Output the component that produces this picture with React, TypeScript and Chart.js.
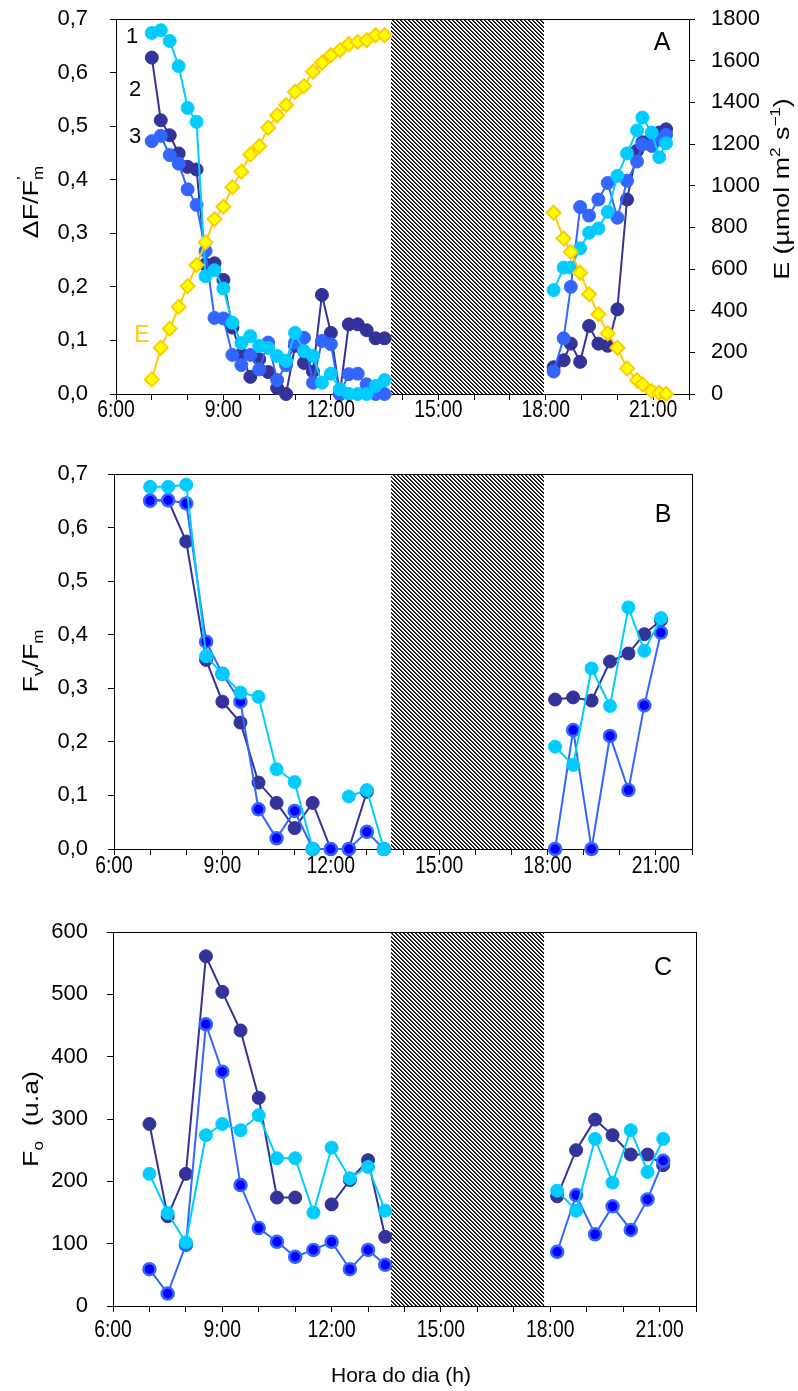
import React, { useEffect, useRef } from 'react';
import { Chart, registerables } from 'chart.js';

Chart.register(...registerables);

const FONT = '"Liberation Sans", Arial, Helvetica, sans-serif';

// ---------- Panel A (ΔF/F'm and E) ----------
const timesAM_A = [7.0, 7.25, 7.5, 7.75, 8.0, 8.25, 8.5, 8.75, 9.0, 9.25, 9.5, 9.75, 10.0, 10.25, 10.5, 10.75, 11.0, 11.25, 11.5, 11.75, 12.0, 12.25, 12.5, 12.75, 13.0, 13.25, 13.5];
const timesPM_A = [18.22, 18.5, 18.7, 18.96, 19.21, 19.47, 19.73, 20.0, 20.27, 20.55, 20.7, 20.96, 21.17, 21.36];

const yieldA1_AM = [0.674, 0.679, 0.659, 0.612, 0.534, 0.508, 0.22, 0.231, 0.197, 0.133, 0.095, 0.108, 0.09, 0.086, 0.071, 0.062, 0.114, 0.08, 0.071, 0.021, 0.038, 0.009, 0.0, 0.0, 0.0, 0.015, 0.026];
const yieldA2_AM = [0.628, 0.511, 0.483, 0.449, 0.424, 0.419, 0.242, 0.244, 0.213, 0.124, 0.074, 0.032, 0.065, 0.041, 0.011, 0.0, 0.09, 0.058, 0.042, 0.185, 0.114, 0.0, 0.13, 0.13, 0.119, 0.104, 0.104];
const yieldA3_AM = [0.472, 0.482, 0.446, 0.43, 0.382, 0.353, 0.267, 0.142, 0.141, 0.073, 0.054, 0.073, 0.046, 0.096, 0.026, 0.054, 0.096, 0.105, 0.021, 0.099, 0.093, 0.0, 0.037, 0.038, 0.018, 0.0, 0.0];

const yieldA1_PM = [0.194, 0.236, 0.236, 0.272, 0.301, 0.309, 0.34, 0.407, 0.449, 0.492, 0.516, 0.488, 0.442, 0.468];
const yieldA2_PM = [0.05, 0.063, 0.094, 0.06, 0.127, 0.094, 0.09, 0.158, 0.363, 0.454, 0.47, 0.478, 0.488, 0.494];
const yieldA3_PM = [0.042, 0.104, 0.2, 0.349, 0.333, 0.363, 0.394, 0.329, 0.398, 0.434, 0.466, 0.463, 0.475, 0.484];

const irradAM = [70, 222, 313, 418, 518, 619, 728, 839, 899, 993, 1067, 1150, 1190, 1278, 1338, 1387, 1450, 1478, 1547, 1590, 1626, 1650, 1679, 1690, 1699, 1722, 1722];
const irradPM = [870, 747, 682, 582, 479, 383, 291, 222, 123, 66, 46, 14, 6, 0];

// ---------- Panel B (Fv/Fm) ----------
const timesAM_B = [7.0, 7.5, 8.0, 8.55, 9.0, 9.5, 10.0, 10.5, 11.0, 11.5, 12.0, 12.5, 13.0, 13.47];
const timesPM_B = [18.21, 18.71, 19.22, 19.73, 20.24, 20.68, 21.14];

const fvfm1_AM = [0.676, 0.676, 0.68, 0.36, 0.327, 0.292, 0.284, 0.149, 0.125, 0.0, null, 0.098, 0.11, 0.0];
const fvfm2_AM = [0.651, 0.651, 0.574, 0.353, 0.275, 0.236, 0.124, 0.086, 0.039, 0.086, 0.0, 0.0, 0.107, null];
const fvfm3_AM = [0.65, 0.651, 0.645, 0.387, 0.327, 0.275, 0.074, 0.02, 0.071, 0.0, 0.0, 0.0, 0.032, 0.0];
const fvfm1_PM = [0.191, 0.157, 0.337, 0.267, 0.451, 0.37, 0.431];
const fvfm2_PM = [0.279, 0.283, 0.277, 0.35, 0.365, 0.401, 0.427];
const fvfm3_PM = [0.0, 0.222, 0.0, 0.211, 0.11, 0.268, 0.404];

// ---------- Panel C (Fo) ----------
const timesAM_C = [7.0, 7.5, 8.0, 8.55, 9.0, 9.5, 10.0, 10.5, 11.0, 11.5, 12.0, 12.5, 13.0, 13.47];
const timesPM_C = [18.19, 18.71, 19.23, 19.71, 20.21, 20.67, 21.1];

const fo1_AM = [212, 149, 102, 274, 292, 282, 306, 237, 237, 150, 254, 205, 223, 153];
const fo2_AM = [292, 144, 212, 561, 504, 442, 334, 174, 174, null, 163, 202, 234, 111];
const fo3_AM = [59, 20, 98, 452, 376, 194, 125, 103, 79, 90, 103, 59, 90, 66];
const fo1_PM = [185, 153, 268, 198, 282, 215, 268];
const fo2_PM = [176, 250, 299, 274, 243, 243, 226];
const fo3_PM = [87, 178, 115, 160, 122, 171, 233];

// x-axis labelled hours
const hourLabels = [6, 9, 12, 15, 18, 21];

// Hatched (no-measurement) interval per panel, in hours
const hatchA = [13.68, 17.95];
const hatchB = [13.67, 17.9];
const hatchC = [13.63, 17.83];

const CYAN = '#00CCFF';
const NAVY = '#333399';
const BLUE = '#3366FF';
const PURE_BLUE = '#0000FF';
const YELLOW_FILL = '#FFFF00';
const YELLOW_LINE = '#FFCC00';

type Pt = { x: number; y: number | null };
function series(am: number[], amY: (number | null)[], pm: number[], pmY: (number | null)[]): Pt[] {
  const a = am.map((x, i) => ({ x, y: amY[i] }));
  const b = pm.map((x, i) => ({ x, y: pmY[i] }));
  return [...a, { x: 16, y: null }, ...b];
}

type Seg = { t: string; size: number; dy?: number; adv?: boolean };

const STRETCH = 1.22;

function drawRich(ctx: CanvasRenderingContext2D, segs: Seg[], cx: number, cy: number, rot: number, color = '#000') {
  ctx.save();
  ctx.translate(cx, cy);
  ctx.rotate(rot);
  ctx.scale(STRETCH, 1);
  ctx.fillStyle = color;
  ctx.textBaseline = 'alphabetic';
  ctx.textAlign = 'left';
  let cur = 0;
  let total = 0;
  for (const s of segs) {
    ctx.font = `${s.size}px ${FONT}`;
    const w = ctx.measureText(s.t).width;
    total = Math.max(total, cur + w);
    if (s.adv !== false) cur += w;
  }
  let x = -total / 2;
  const base = 22 * 0.36;
  for (const s of segs) {
    ctx.font = `${s.size}px ${FONT}`;
    const w = ctx.measureText(s.t).width;
    ctx.fillText(s.t, x, base + (s.dy || 0));
    if (s.adv !== false) x += w;
  }
  ctx.restore();
}

type TextItem = { t: string; x: number; y: number; size: number; color?: string };
type RichItem = { segs: Seg[]; x: number; y: number; rot: number };

function makePattern(ctx: CanvasRenderingContext2D) {
  const n = 4;
  const c = document.createElement('canvas');
  c.width = n;
  c.height = n;
  const g = c.getContext('2d')!;
  g.fillStyle = '#ffffff';
  g.fillRect(0, 0, n, n);
  for (let y = 0; y < n; y++) {
    g.fillStyle = '#000000';
    g.fillRect(y % n, y, 1, 1);
    g.fillStyle = '#444444';
    g.fillRect((y + 1) % n, y, 1, 1);
  }
  return ctx.createPattern(c, 'repeat');
}

function panelPlugin(top: number, hatch: number[], texts: TextItem[], rich: RichItem[], boxRight: boolean, labelOffset: number) {
  return {
    id: 'panelDeco' + top,
    beforeDatasetsDraw(chart: any) {
      const { ctx, chartArea, scales } = chart;
      const x1 = scales.x.getPixelForValue(hatch[0]);
      const x2 = scales.x.getPixelForValue(hatch[1]);
      ctx.save();
      const pat = makePattern(ctx);
      ctx.fillStyle = pat || '#555';
      ctx.fillRect(x1, chartArea.top, x2 - x1, chartArea.bottom - chartArea.top);
      ctx.restore();
    },
    afterDraw(chart: any) {
      const { ctx, chartArea, scales } = chart;
      ctx.save();
      ctx.strokeStyle = '#000';
      ctx.lineWidth = 1;
      ctx.beginPath();
      ctx.moveTo(chartArea.left, chartArea.top + 0.5);
      ctx.lineTo(chartArea.right + 1, chartArea.top + 0.5);
      if (boxRight) {
        ctx.moveTo(chartArea.right + 0.5, chartArea.top);
        ctx.lineTo(chartArea.right + 0.5, chartArea.bottom);
      }
      ctx.stroke();
      // x tick labels (slightly condensed like the reference)
      ctx.fillStyle = '#000';
      ctx.textAlign = 'center';
      ctx.textBaseline = 'middle';
      ctx.font = `23px ${FONT}`;
      for (const h of hourLabels) {
        const px = scales.x.getPixelForValue(h);
        ctx.save();
        ctx.translate(px, chartArea.bottom + labelOffset);
        ctx.scale(0.84, 1);
        ctx.fillText(`${h}:00`, 0, 0);
        ctx.restore();
      }
      for (const t of texts) {
        ctx.font = `${t.size}px ${FONT}`;
        ctx.fillStyle = t.color || '#000';
        ctx.textAlign = 'center';
        ctx.textBaseline = 'middle';
        ctx.fillText(t.t, t.x, t.y - top);
      }
      for (const r of rich) drawRich(ctx, r.segs, r.x, r.y - top, r.rot);
      ctx.restore();
    },
  };
}

function lineDs(label: string, data: Pt[], color: string, order: number, center?: string) {
  return {
    label,
    data,
    borderColor: color,
    backgroundColor: center || color,
    pointBackgroundColor: center || color,
    pointBorderColor: color,
    pointBorderWidth: center ? 2.5 : 1,
    pointRadius: center ? 6 : 6.5,
    borderWidth: 2,
    spanGaps: false,
    clip: false as any,
    order,
  };
}

function xAxis(height: number) {
  return {
    type: 'linear',
    min: 6,
    max: 22,
    afterFit: (s: any) => {
      s.height = height;
      s.paddingLeft = 0;
      s.paddingRight = 0;
    },
    ticks: {
      stepSize: 1,
      autoSkip: false,
      maxRotation: 0,
      display: false,
    },
    grid: { drawOnChartArea: false, drawTicks: true, tickLength: 6, color: '#000' },
    border: { color: '#000', width: 1 },
  };
}

function yAxis(min: number, max: number, step: number, fmt: (v: number) => string, position: string, width: number, pad: number) {
  return {
    type: 'linear',
    position,
    min,
    max,
    afterFit: (s: any) => {
      s.width = width;
      s.paddingTop = 6;
      s.paddingBottom = 6;
    },
    ticks: {
      stepSize: step,
      padding: pad,
      color: '#000',
      font: { size: 22, family: FONT },
      callback: (v: number) => fmt(v),
    },
    grid: { drawOnChartArea: false, drawTicks: true, tickLength: 6, color: '#000' },
    border: { color: '#000', width: 1 },
  };
}

const dec = (v: number) => (Math.round(v * 10) / 10).toFixed(1).replace('.', ',');
const int = (v: number) => String(Math.round(v));

const baseOpts = (padTop: number, padRight: number) => ({
  animation: false,
  responsive: false,
  devicePixelRatio: 1,
  layout: { padding: { top: padTop, right: padRight, bottom: 0, left: 0 } },
  plugins: { legend: { display: false }, tooltip: { enabled: false } },
});

const A_TOP = 0, A_H = 430;
const B_TOP = 430, B_H = 460;
const C_TOP = 890, C_H = 501;

export default function App() {
  const refA = useRef<HTMLCanvasElement>(null);
  const refB = useRef<HTMLCanvasElement>(null);
  const refC = useRef<HTMLCanvasElement>(null);

  useEffect(() => {
    Chart.defaults.font.family = FONT;
    const charts: Chart[] = [];

    // Panel A: plot 116..689 x 19..394
    const plotA = { top: 19, bottom: 394, left: 116, right: 689 };
    charts.push(
      new Chart(refA.current!, {
        type: 'line',
        data: {
          datasets: [
            {
              label: 'E',
              data: series(timesAM_A, irradAM, timesPM_A, irradPM),
              yAxisID: 'y2',
              borderColor: YELLOW_LINE,
              backgroundColor: YELLOW_FILL,
              pointBackgroundColor: YELLOW_FILL,
              pointBorderColor: YELLOW_LINE,
              pointBorderWidth: 2,
              pointStyle: 'rectRot',
              pointRadius: 7,
              borderWidth: 2,
              spanGaps: false,
              clip: false as any,
              order: 0,
            },
            { ...lineDs('1', series(timesAM_A, yieldA1_AM, timesPM_A, yieldA1_PM), CYAN, 1), yAxisID: 'y' },
            { ...lineDs('3', series(timesAM_A, yieldA3_AM, timesPM_A, yieldA3_PM), BLUE, 2), yAxisID: 'y' },
            { ...lineDs('2', series(timesAM_A, yieldA2_AM, timesPM_A, yieldA2_PM), NAVY, 3), yAxisID: 'y' },
          ] as any,
        },
        options: {
          ...baseOpts(plotA.top, 0),
          scales: {
            x: xAxis(A_H - plotA.bottom),
            y: yAxis(0, 0.7, 0.1, dec, 'left', plotA.left, 22),
            y2: yAxis(0, 1800, 200, int, 'right', 798 - plotA.right, 16),
          },
        } as any,
        plugins: [
          panelPlugin(
            A_TOP,
            hatchA,
            [
              { t: 'A', x: 662, y: 43, size: 25 },
              { t: '1', x: 132, y: 37, size: 22 },
              { t: '2', x: 135, y: 90, size: 22 },
              { t: '3', x: 135, y: 137, size: 22 },
              { t: 'E', x: 142, y: 336, size: 23, color: YELLOW_LINE },
            ],
            [
              {
                segs: [
                  { t: 'ΔF/F', size: 22 },
                  { t: '\u2019', size: 14, dy: -11, adv: false },
                  { t: 'm', size: 14, dy: 5 },
                ],
                x: 30,
                y: 202,
                rot: -Math.PI / 2,
              },
              {
                segs: [
                  { t: 'E (µmol m', size: 22 },
                  { t: '2', size: 14, dy: -9 },
                  { t: ' s', size: 22 },
                  { t: '\u22121', size: 14, dy: -9 },
                  { t: ')', size: 22 },
                ],
                x: 781,
                y: 189,
                rot: -Math.PI / 2,
              },
            ],
            false,
            17
          ),
        ],
      })
    );

    // Panel B: plot 114..692 x 474..849
    const plotB = { top: 474 - B_TOP, bottom: 849 - B_TOP, left: 114, right: 692 };
    charts.push(
      new Chart(refB.current!, {
        type: 'line',
        data: {
          datasets: [
            lineDs('1', series(timesAM_B, fvfm1_AM, timesPM_B, fvfm1_PM), CYAN, 1),
            lineDs('3', series(timesAM_B, fvfm3_AM, timesPM_B, fvfm3_PM), BLUE, 2, PURE_BLUE),
            lineDs('2', series(timesAM_B, fvfm2_AM, timesPM_B, fvfm2_PM), NAVY, 3),
          ] as any,
        },
        options: {
          ...baseOpts(plotB.top, 798 - plotB.right),
          scales: {
            x: xAxis(B_H - plotB.bottom),
            y: yAxis(0, 0.7, 0.1, dec, 'left', plotB.left, 20),
          },
        } as any,
        plugins: [
          panelPlugin(
            B_TOP,
            hatchB,
            [{ t: 'B', x: 663, y: 515, size: 25 }],
            [
              {
                segs: [
                  { t: 'F', size: 22 },
                  { t: 'v', size: 14, dy: 5 },
                  { t: '/F', size: 22 },
                  { t: 'm', size: 14, dy: 5 },
                ],
                x: 30,
                y: 661,
                rot: -Math.PI / 2,
              },
            ],
            true,
            18
          ),
        ],
      })
    );

    // Panel C: plot 113..696 x 932..1306
    const plotC = { top: 932 - C_TOP, bottom: 1306 - C_TOP, left: 113, right: 696 };
    charts.push(
      new Chart(refC.current!, {
        type: 'line',
        data: {
          datasets: [
            lineDs('1', series(timesAM_C, fo1_AM, timesPM_C, fo1_PM), CYAN, 1),
            lineDs('3', series(timesAM_C, fo3_AM, timesPM_C, fo3_PM), BLUE, 2, PURE_BLUE),
            lineDs('2', series(timesAM_C, fo2_AM, timesPM_C, fo2_PM), NAVY, 3),
          ] as any,
        },
        options: {
          ...baseOpts(plotC.top, 798 - plotC.right),
          scales: {
            x: xAxis(C_H - plotC.bottom),
            y: yAxis(0, 600, 100, int, 'left', plotC.left, 19),
          },
        } as any,
        plugins: [
          panelPlugin(
            C_TOP,
            hatchC,
            [
              { t: 'C', x: 663, y: 968, size: 25 },
              { t: 'Hora do dia (h)', x: 401, y: 1376, size: 21 },
            ],
            [
              {
                segs: [
                  { t: 'F', size: 22 },
                  { t: 'o', size: 14, dy: 5 },
                  { t: '  (u.a)', size: 22 },
                ],
                x: 30,
                y: 1119,
                rot: -Math.PI / 2,
              },
            ],
            true,
            25
          ),
        ],
      })
    );

    return () => {
      charts.forEach((c) => c.destroy());
    };
  }, []);

  const cs = (top: number, h: number): React.CSSProperties => ({ position: 'absolute', left: 0, top, width: 798, height: h });

  return (
    <div style={{ position: 'absolute', left: 0, top: 0, width: 798, height: 1391, background: '#fff' }}>
      <canvas ref={refA} width={798} height={A_H} style={cs(A_TOP, A_H)} />
      <canvas ref={refB} width={798} height={B_H} style={cs(B_TOP, B_H)} />
      <canvas ref={refC} width={798} height={C_H} style={cs(C_TOP, C_H)} />
    </div>
  );
}
